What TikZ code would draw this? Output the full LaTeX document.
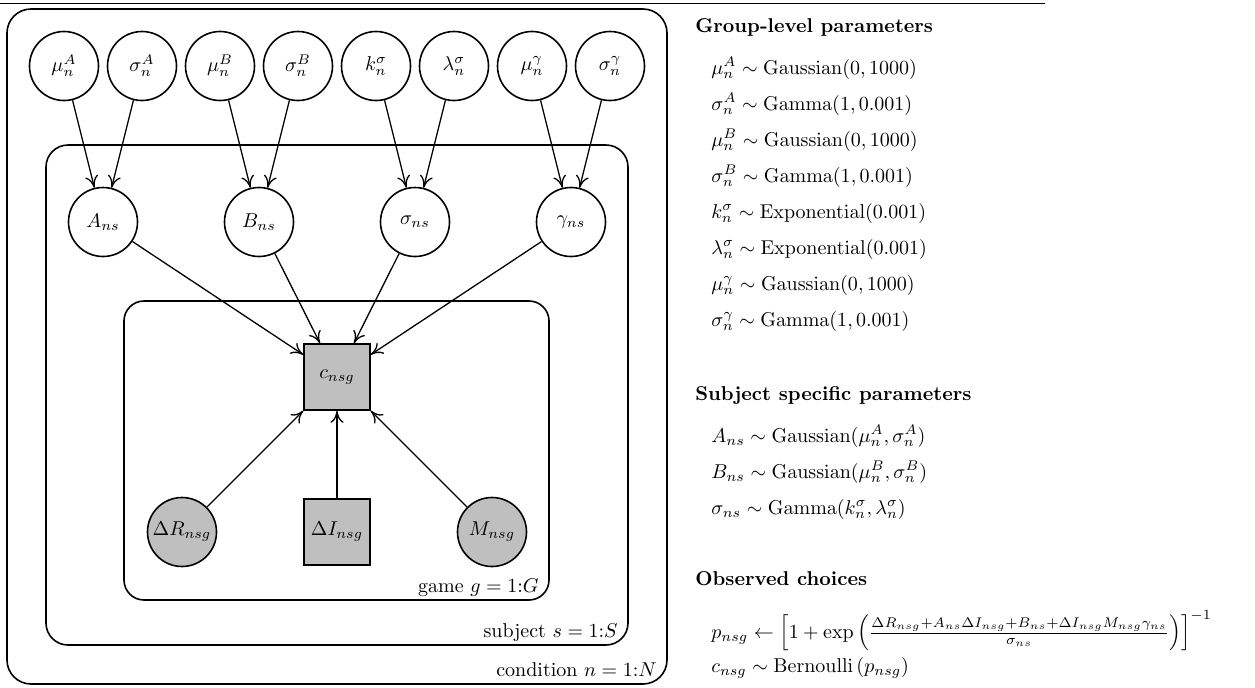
\documentclass[tikz,border=0pt]{standalone}
\usepackage{amsmath}
\usetikzlibrary{arrows.meta}

\begin{document}
\begin{tikzpicture}[x=5pt, y=-5pt,
    latent/.style={circle, draw, fill=white, line width=0.8pt, minimum size=34.5pt, inner sep=0pt},
    obs/.style={latent, fill=black!25},
    det/.style={rectangle, draw, fill=black!25, line width=0.8pt, minimum size=33pt, inner sep=0pt},
    dep/.style={-{To[length=6pt, width=6.5pt]}, line width=0.65pt},
    plate/.style={draw, line width=0.8pt, rounded corners=11pt},
    platelabel/.style={anchor=base east, inner sep=0pt},
    eq/.style={anchor=base west, inner sep=0pt},
    hlava/.style={anchor=base west, inner sep=0pt, font=\bfseries}]
  \useasboundingbox (0,0) rectangle (125.5,68.7);

  % linka nahoře
  \draw[line width=0.6pt] (0,0.35) -- (104.5,0.35);

  % destičky
  \draw[plate, rounded corners=12pt] (0.7,0.9) rectangle (66.7,68.4);
  \draw[plate] (4.6,14.5) rectangle (62.8,64.5);
  \draw[plate, rounded corners=10pt] (12.4,30.1) rectangle (54.9,60.0);
  \node[platelabel] (lcond) at (65.7,67.6) {condition $n = 1{:}N$};
  \node[platelabel] (lsubj) at (61.8,63.7) {subject $s = 1{:}S$};
  \node[platelabel] (lgame) at (53.9,59.2) {game $g = 1{:}G$};

  % skupinové parametry
  \node[latent] (muA) at (6.4,6.6) {$\mu_n^A$};
  \node[latent] (sigA) at (14.2,6.6) {$\sigma_n^A$};
  \node[latent] (muB) at (22.0,6.6) {$\mu_n^B$};
  \node[latent] (sigB) at (29.8,6.6) {$\sigma_n^B$};
  \node[latent] (kS) at (37.6,6.6) {$k_n^\sigma$};
  \node[latent] (lamS) at (45.4,6.6) {$\lambda_n^\sigma$};
  \node[latent] (muG) at (53.2,6.6) {$\mu_n^\gamma$};
  \node[latent] (sigG) at (61.0,6.6) {$\sigma_n^\gamma$};

  % parametry subjektu
  \node[latent] (A) at (10.3,22.2) {$A_{ns}$};
  \node[latent] (B) at (25.9,22.2) {$B_{ns}$};
  \node[latent] (S) at (41.5,22.2) {$\sigma_{ns}$};
  \node[latent] (G) at (57.1,22.2) {$\gamma_{ns}$};

  % hra
  \node[det] (c) at (33.7,37.7) {$c_{nsg}$};
  \node[obs] (dR) at (18.2,53.2) {$\Delta R_{nsg}$};
  \node[det] (dI) at (33.7,53.2) {$\Delta I_{nsg}$};
  \node[obs] (M) at (49.2,53.2) {$M_{nsg}$};

  % šipky
  \draw[dep] (muA) -- (A);
  \draw[dep] (sigA) -- (A);
  \draw[dep] (muB) -- (B);
  \draw[dep] (sigB) -- (B);
  \draw[dep] (kS) -- (S);
  \draw[dep] (lamS) -- (S);
  \draw[dep] (muG) -- (G);
  \draw[dep] (sigG) -- (G);
  \draw[dep] (A) -- (c);
  \draw[dep] (B) -- (c);
  \draw[dep] (S) -- (c);
  \draw[dep] (G) -- (c);
  \draw[dep] (dR) -- (c);
  \draw[dep] (dI) -- (c);
  \draw[dep] (M) -- (c);

  % rovnice
  \node[hlava] (h1) at (69.5,3.2) {Group-level parameters};
  \node[eq] (g1) at (71.1,7.4) {$\mu_n^A \sim \mathrm{Gaussian}(0,1000)$};
  \node[eq] (g2) at (71.1,11.0) {$\sigma_n^A \sim \mathrm{Gamma}(1,0.001)$};
  \node[eq] (g3) at (71.1,14.6) {$\mu_n^B \sim \mathrm{Gaussian}(0,1000)$};
  \node[eq] (g4) at (71.1,18.2) {$\sigma_n^B \sim \mathrm{Gamma}(1,0.001)$};
  \node[eq] (g5) at (71.1,21.8) {$k_n^\sigma \sim \mathrm{Exponential}(0.001)$};
  \node[eq] (g6) at (71.1,25.4) {$\lambda_n^\sigma \sim \mathrm{Exponential}(0.001)$};
  \node[eq] (g7) at (71.1,29.0) {$\mu_n^\gamma \sim \mathrm{Gaussian}(0,1000)$};
  \node[eq] (g8) at (71.1,32.6) {$\sigma_n^\gamma \sim \mathrm{Gamma}(1,0.001)$};

  \node[hlava] (h2) at (69.5,40.0) {Subject specific parameters};
  \node[eq] (s1) at (71.1,44.2) {$A_{ns} \sim \mathrm{Gaussian}(\mu_n^A,\sigma_n^A)$};
  \node[eq] (s2) at (71.1,47.8) {$B_{ns} \sim \mathrm{Gaussian}(\mu_n^B,\sigma_n^B)$};
  \node[eq] (s3) at (71.1,51.4) {$\sigma_{ns} \sim \mathrm{Gamma}(k_n^\sigma,\lambda_n^\sigma)$};

  \node[hlava] (h3) at (69.5,58.5) {Observed choices};
  \node[eq] (o1) at (71.1,63.8) {$p_{nsg} \leftarrow \left[1+\exp\left(\frac{\Delta R_{nsg}+A_{ns}\Delta I_{nsg}+B_{ns}+\Delta I_{nsg}M_{nsg}\gamma_{ns}}{\sigma_{ns}}\right)\right]^{-1}$};
  \node[eq] (o2) at (71.1,67.2) {$c_{nsg} \sim \mathrm{Bernoulli}\left(p_{nsg}\right)$};
\end{tikzpicture}
\end{document}
